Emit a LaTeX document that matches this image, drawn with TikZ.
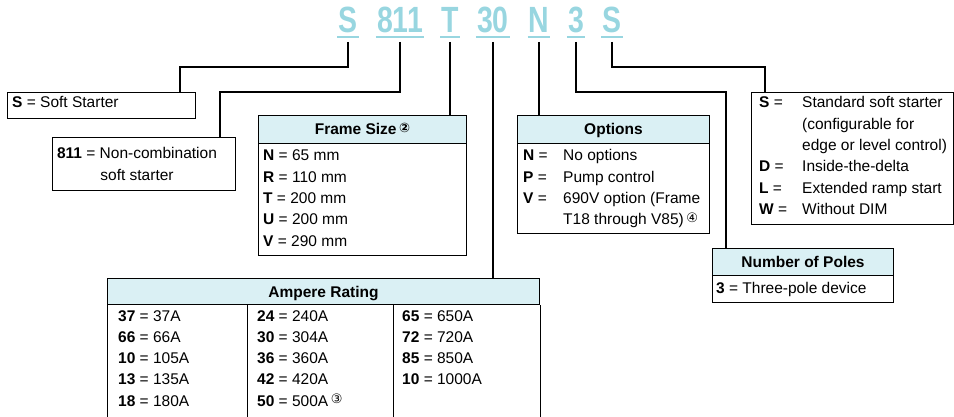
\documentclass[tikz,border=0pt]{standalone}
\usepackage{fontspec}
\setmainfont{Liberation Sans}
\newfontfamily\codefont{Liberation Sans}[FakeStretch=0.78]
\newfontfamily\circfont{DejaVu Sans}
\usetikzlibrary{calc}
\usepackage{xcolor}
\definecolor{codecyan}{RGB}{152,214,224}
\definecolor{headcyan}{RGB}{218,240,244}
\newcommand\bodyfont{\fontsize{15.5}{21.3}\selectfont}
\newcommand\fnote[1]{\,{\circfont\fontsize{13}{13}\selectfont\raisebox{2.5pt}{#1}}}

\begin{document}
\begin{tikzpicture}[x=1pt,y=-1pt,
    code/.style={font=\codefont\bfseries\fontsize{36.5}{36.5}\selectfont, text=codecyan, inner xsep=1pt, inner ysep=0pt, anchor=base},
    uline/.style={codecyan, line width=2pt},
    link/.style={line width=2pt},
    boxline/.style={line width=1pt},
    box/.style={draw, line width=1pt, anchor=north west, inner sep=0pt},
    headbar/.style={draw, line width=1pt, fill=headcyan, anchor=north west, inner sep=0pt, text height=11pt, text depth=0pt, font=\bodyfont\bfseries},
    body/.style={anchor=base west, inner sep=0pt, font=\bodyfont}]

        \useasboundingbox (0,0) rectangle (954,417);

        % Catalogue number
        \node[code] (codeS) at (348,33) {S};
        \node[code] (codeFam) at (400,33) {811};
        \node[code] (codeFrame) at (450,33) {T};
        \node[code] (codeAmp) at (493,33) {30};
        \node[code] (codeOpt) at (539,33) {N};
        \node[code] (codePoles) at (576,33) {3};
        \node[code] (codeType) at (612,33) {S};
        \foreach \c in {codeS,codeFam,codeFrame,codeAmp,codeOpt,codePoles,codeType}
        {
          \draw[uline] ([yshift=-4.5pt]\c.base west) -- ([yshift=-4.5pt]\c.base east);
        }

        % Soft starter
        \node[box, minimum width=188, minimum height=26] (boxSS) at (7,92) {};
        \node[body] (txtSS) at (12,107.5) {\textbf{S} = Soft Starter};

        % Family
        \node[box, minimum width=183, minimum height=53] (boxFam) at (52,137) {};
        \node[anchor=base, inner sep=0pt, font=\bodyfont] (txtFam) at (137,159)
          {\begin{tabular}[t]{@{}c@{}}\textbf{811} = Non-combination\\ soft starter\end{tabular}};

        % Frame size
        \node[box, minimum width=208, minimum height=140] (boxFrame) at (258,115) {};
        \node[headbar, minimum width=208, minimum height=28] (headFrame) at (boxFrame.north west) {Frame Size\fnote{②}};
        \node[body] (txtFrame) at (263,161)
          {\begin{tabular}[t]{@{}l@{}}
            \textbf{N} = 65 mm\\
            \textbf{R} = 110 mm\\
            \textbf{T} = 200 mm\\
            \textbf{U} = 200 mm\\
            \textbf{V} = 290 mm
          \end{tabular}};

        % Options
        \node[box, minimum width=192, minimum height=118] (boxOpt) at (517,115) {};
        \node[headbar, minimum width=192, minimum height=28] (headOpt) at (boxOpt.north west) {Options};
        \node[body] (txtOpt) at (523,161)
          {\begin{tabular}[t]{@{}p{40pt}@{}l@{}}
            \textbf{N} = & No options\\
            \textbf{P} = & Pump control\\
            \textbf{V} = & 690V option (Frame\\
                         & T18 through V85)\fnote{④}
          \end{tabular}};

        % Type
        \node[box, minimum width=202, minimum height=132] (boxType) at (751,92) {};
        \node[body] (txtType) at (759,108)
          {\begin{tabular}[t]{@{}p{43pt}@{}l@{}}
            \textbf{S} = & Standard soft starter\\
                         & (configurable for\\
                         & edge or level control)\\
            \textbf{D} = & Inside-the-delta\\
            \textbf{L} = & Extended ramp start\\
            \textbf{W} = & Without DIM
          \end{tabular}};

        % Poles
        \node[box, minimum width=181, minimum height=54] (boxPoles) at (712,248) {};
        \node[headbar, minimum width=181, minimum height=27] (headPoles) at (boxPoles.north west) {Number of Poles};
        \node[body] (txtPoles) at (716,293) {\textbf{3} = Three-pole device};

        % Ampere rating
        \node[headbar, minimum width=432, minimum height=26] (boxAmp) at (107,278) {Ampere Rating};
        \draw[boxline] (boxAmp.south west) -- (boxAmp.south west |- 0,418);
        \draw[boxline] (boxAmp.south east) -- (boxAmp.south east |- 0,418);
        \foreach \x in {247,393}
        {
          \draw[boxline] (\x,304) -- (\x,418);
        }
        \node[body] (txtAmpA) at (118,321)
          {\begin{tabular}[t]{@{}l@{}}
            \textbf{37} = 37A\\
            \textbf{66} = 66A\\
            \textbf{10} = 105A\\
            \textbf{13} = 135A\\
            \textbf{18} = 180A
          \end{tabular}};
        \node[body] (txtAmpB) at (257,321)
          {\begin{tabular}[t]{@{}l@{}}
            \textbf{24} = 240A\\
            \textbf{30} = 304A\\
            \textbf{36} = 360A\\
            \textbf{42} = 420A\\
            \textbf{50} = 500A\fnote{③}
          \end{tabular}};
        \node[body] (txtAmpC) at (402,321)
          {\begin{tabular}[t]{@{}l@{}}
            \textbf{65} = 650A\\
            \textbf{72} = 720A\\
            \textbf{85} = 850A\\
            \textbf{10} = 1000A
          \end{tabular}};

        % Leaders
        \coordinate (elbowSS) at (180,67);
        \coordinate (elbowFam) at (220,92);
        \coordinate (elbowPoles) at (726,92);
        \coordinate (elbowType) at (765,67);
        \draw[link] ([yshift=-9pt]codeS.base) |- (elbowSS) -- (elbowSS |- boxSS.north);
        \draw[link] ([yshift=-9pt]codeFam.base) |- (elbowFam) -- (elbowFam |- boxFam.north);
        \draw[link] ([yshift=-9pt]codeFrame.base) -- (codeFrame.base |- boxFrame.north);
        \draw[link] ([yshift=-9pt]codeAmp.base) -- (codeAmp.base |- boxAmp.north);
        \draw[link] ([yshift=-9pt]codeOpt.base) -- (codeOpt.base |- boxOpt.north);
        \draw[link] ([yshift=-9pt]codePoles.base) |- (elbowPoles) -- (elbowPoles |- boxPoles.north);
        \draw[link] ([yshift=-9pt]codeType.base) |- (elbowType) -- (elbowType |- boxType.north);
    \end{tikzpicture}
\end{document}
